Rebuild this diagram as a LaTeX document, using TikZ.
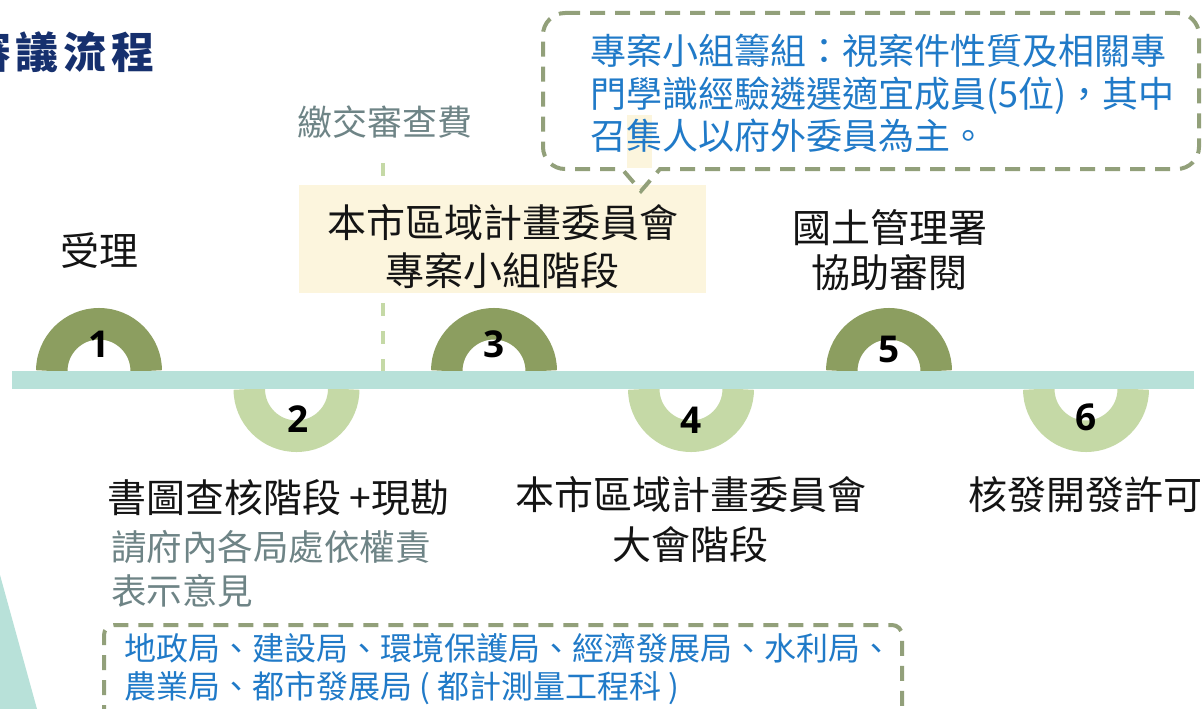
\documentclass[tikz,border=0pt]{standalone}
\usepackage{fontspec}
\setmainfont{Noto Sans CJK TC}
\newfontfamily\numfont{Open Sans}
\definecolor{olivering}{RGB}{140,158,96}
\definecolor{lightring}{RGB}{197,217,166}
\definecolor{barteal}{RGB}{184,225,217}
\definecolor{creamy}{RGB}{252,245,221}
\definecolor{dashgray}{RGB}{146,160,122}
\definecolor{bluetxt}{RGB}{32,122,200}
\definecolor{graytxt}{RGB}{110,132,134}
\definecolor{navy}{RGB}{22,48,110}
\definecolor{blacktxt}{RGB}{20,20,20}
\tikzset{
  lbl/.style={inner sep=0pt, anchor=base, text=blacktxt, font=\fontsize{39}{45}\selectfont},
  graylbl/.style={inner sep=0pt, anchor=base west, text=graytxt, font=\fontsize{35.5}{44}\selectfont},
  bluelbl/.style={inner sep=0pt, anchor=base west, text=bluetxt, font=\fontsize{36}{42}\selectfont},
  bluesmall/.style={inner sep=0pt, anchor=base west, text=bluetxt, font=\fontsize{32}{38}\selectfont},
  titlech/.style={inner sep=0pt, anchor=base, text=navy, font=\fontsize{43}{50}\selectfont\bfseries},
  numlbl/.style={inner sep=0pt, anchor=base, text=black, font=\fontsize{37}{40}\selectfont\numfont\bfseries},
  ringup/.style={draw=olivering, line width=31.5pt},
  ringdown/.style={draw=lightring, line width=31.5pt},
  vdash/.style={draw=lightring, line width=4pt, dash pattern=on 13pt off 15pt},
  calldash/.style={draw=dashgray, line width=4pt, dash pattern=on 15pt off 10pt},
}
\begin{document}
\begin{tikzpicture}[x=1pt,y=-1pt]
\useasboundingbox (0,0) rectangle (1204,709);
\fill[white] (0,0) rectangle (1204,709);
% left triangle
\fill[barteal] (0,575) -- (37,709) -- (0,709) -- cycle;
% title
\node[titlech] (t1) at (-10,68) {審};
\node[titlech] (t2) at (37.5,68) {議};
\node[titlech] (t3) at (85,68) {流};
\node[titlech] (t4) at (133,68) {程};
% dashed vertical line
\coordinate (vtop) at (383,163);
\coordinate (vbot) at (383,371);
\draw[vdash] (vtop) -- (vbot);
% rings
\draw[ringup] (99,371) ++(47.25pt,0) arc[start angle=0,end angle=180,radius=47.25pt];
\draw[ringup] (494,371) ++(47.25pt,0) arc[start angle=0,end angle=180,radius=47.25pt];
\draw[ringup] (889,371) ++(47.25pt,0) arc[start angle=0,end angle=180,radius=47.25pt];
\draw[ringdown] (296.5,389) ++(-47.25pt,0) arc[start angle=180,end angle=360,radius=47.25pt];
\draw[ringdown] (691,389) ++(-47.25pt,0) arc[start angle=180,end angle=360,radius=47.25pt];
\draw[ringdown] (1086,389) ++(-47.25pt,0) arc[start angle=180,end angle=360,radius=47.25pt];
% bar
\fill[barteal] (12,371) rectangle (1194,389);
% numbers
\node[numlbl] (n1) at (99,357) {1};
\node[numlbl] (n2) at (298,432) {2};
\node[numlbl] (n3) at (494,357) {3};
\node[numlbl] (n4) at (691,433) {4};
\node[numlbl] (n5) at (889,362) {5};
\node[numlbl] (n6) at (1086,430) {6};
% yellow box
\node[fill=creamy, minimum width=407pt, minimum height=108pt, inner sep=0pt] (ybox) at (502.5,239) {};
\node[lbl] (y1) at (502.5,237) {本市區域計畫委員會};
\node[lbl] (y2) at (502.5,285) {專案小組階段};
% fee text
\node[inner sep=0pt, anchor=base, text=graytxt, font=\fontsize{35}{40}\selectfont] (fee) at (384.5,135) {繳交審查費};
% callout
\fill[creamy] (627,115) rectangle (652,168);
\draw[calldash] (565,13) -- (1177,13) arc[start angle=90,end angle=0,radius=22pt] -- (1199,147) arc[start angle=0,end angle=-90,radius=22pt] -- (660,169) -- (641,191) -- (622,169) -- (565,169) arc[start angle=-90,end angle=-180,radius=22pt] -- (543,35) arc[start angle=180,end angle=90,radius=22pt] -- cycle;
\node[bluelbl] (c1) at (590,65) {專案小組籌組：視案件性質及相關專};
\node[bluelbl] (c2) at (590,107) {門學識經驗遴選適宜成員(5位)，其中};
\node[bluelbl] (c3) at (590,149) {召集人以府外委員為主。};
% labels
\node[lbl] (l1) at (99.5,265) {受理};
\node[lbl] (l5a) at (889.5,242) {國土管理署};
\node[lbl] (l5b) at (889.5,287) {協助審閱};
\node[inner sep=0pt, anchor=base west, text=blacktxt, font=\fontsize{39}{45}\selectfont] (l2) at (107,512) {書圖查核階段 +現勘};
\node[graylbl] (g1) at (111,560) {請府內各局處依權責};
\node[graylbl] (g2) at (111,604) {表示意見};
\node[lbl] (l4a) at (690.5,509) {本市區域計畫委員會};
\node[lbl] (l4b) at (690.5,559) {大會階段};
\node[lbl] (l6) at (1085,509) {核發開發許可};
% bottom dashed box
\draw[calldash] (104,720) -- (104,635) arc[start angle=180,end angle=90,radius=10pt] -- (892,625) arc[start angle=90,end angle=0,radius=10pt] -- (902,720);
\node[bluesmall] (b1) at (124,660) {地政局、建設局、環境保護局、經濟發展局、水利局、};
\node[bluesmall] (b2) at (124,698) {農業局、都市發展局 ( 都計測量工程科 )};
\end{tikzpicture}
\end{document}
